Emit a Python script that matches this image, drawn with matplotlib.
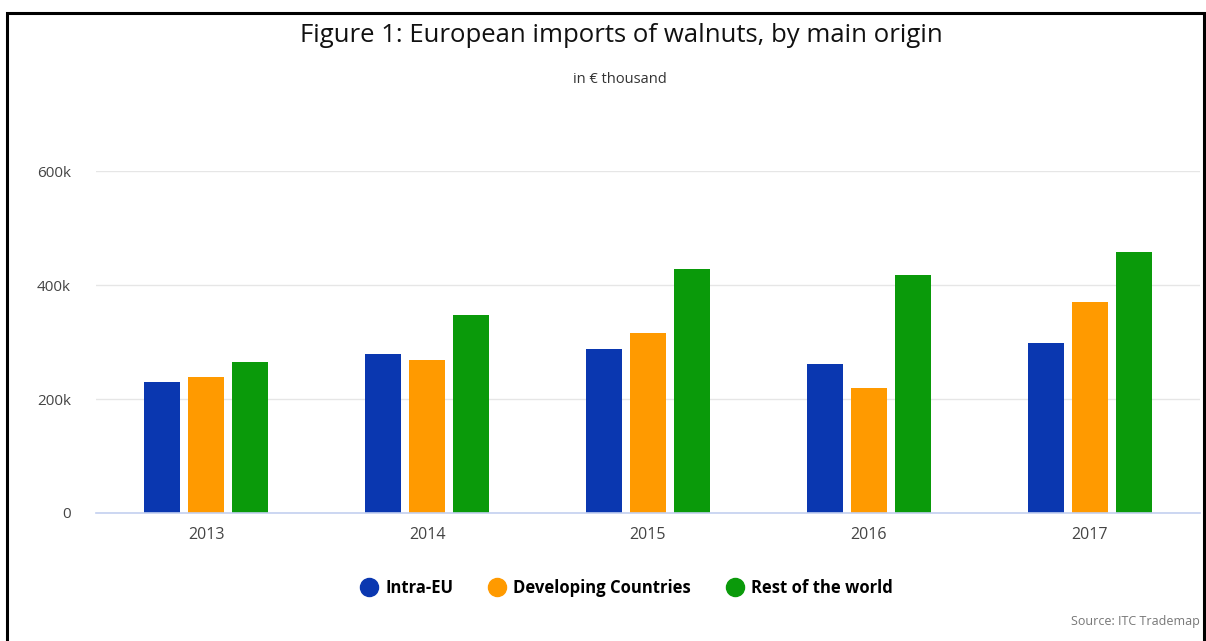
import matplotlib
matplotlib.use('Agg')
import matplotlib.pyplot as plt
import numpy as np
from matplotlib.lines import Line2D
from matplotlib.patches import Rectangle

# data (values in EUR thousand)
years = ['2013', '2014', '2015', '2016', '2017']
intra_eu = [230000, 279000, 288000, 261000, 298000]
developing = [238000, 268000, 316000, 219000, 370000]
rest_world = [265000, 347000, 428000, 417000, 458000]
series_names = ['Intra-EU', 'Developing Countries', 'Rest of the world']
colors = ['#0a37b0', '#ff9a00', '#0a9a0a']
y_ticks = [0, 200000, 400000, 600000]
y_tick_labels = ['0', '200k', '400k', '600k']

plt.rcParams['font.family'] = ['Open Sans', 'DejaVu Sans']


def main():
    fig = plt.figure(figsize=(12.06, 6.41), dpi=100)
    ax = fig.add_axes([0.0796, 0.1997, 0.9154, 0.5335])

    x = np.arange(len(years))
    width = 0.163
    step = 0.199
    for i, vals in enumerate([intra_eu, developing, rest_world]):
        ax.bar(x + (i - 1) * step, vals, width, color=colors[i], zorder=3)

    ax.set_xlim(-0.5, len(years) - 0.5)
    ax.set_ylim(0, 600000)
    ax.set_yticks(y_ticks)
    ax.set_yticklabels(y_tick_labels, fontsize=11, color='#444444')
    ax.set_xticks(x)
    ax.set_xticklabels(years, fontsize=11.5, color='#444444')
    ax.tick_params(axis='both', length=0)
    ax.tick_params(axis='y', pad=18)
    ax.tick_params(axis='x', pad=10)
    ax.grid(axis='y', color='#e6e6e6', linewidth=1, zorder=0)
    for side in ['top', 'right', 'left']:
        ax.spines[side].set_visible(False)
    ax.spines['bottom'].set_color('#c3d0f0')
    ax.spines['bottom'].set_linewidth(1.2)
    ax.spines['bottom'].set_zorder(4)

    # titles
    fig.text(0.515, 0.945, 'Figure 1: European imports of walnuts, by main origin',
             ha='center', va='center', fontsize=18.5, color='#111111')
    fig.text(0.514, 0.876, 'in \u20ac thousand', ha='center', va='center',
             fontsize=10.5, color='#333333')

    # legend with round markers
    handles = [Line2D([], [], marker='o', linestyle='', markersize=13,
                      markerfacecolor=c, markeredgecolor=c) for c in colors]
    fig.legend(handles, series_names, loc='center',
               bbox_to_anchor=(0.52, 0.083), ncol=3, frameon=False,
               handlelength=0.9, handletextpad=0.5, columnspacing=2.2,
               prop={'size': 12, 'weight': 'bold'})

    fig.text(0.995, 0.03, 'Source: ITC Trademap', ha='right', va='center',
             fontsize=9, color='#777777')

    # frame around the figure
    fig.patches.append(Rectangle((0.006, -0.05), 0.992, 1.03,
                                 transform=fig.transFigure, fill=False,
                                 edgecolor='black', linewidth=2.2))

    fig.savefig('out.png', dpi=100)


if __name__ == '__main__':
    main()
